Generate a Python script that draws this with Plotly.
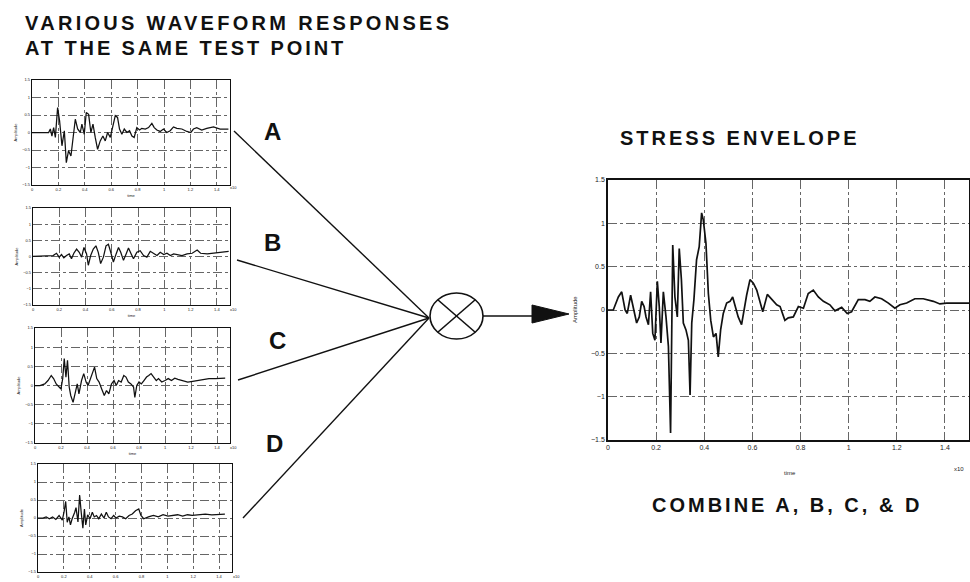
import plotly.graph_objects as go

W, H = 970, 582

# ---------------- data ----------------
a_time = [0, 0.126, 0.139, 0.151, 0.164, 0.177, 0.194, 0.209, 0.227, 0.245,
          0.26, 0.277, 0.295, 0.31, 0.328, 0.346, 0.366, 0.378, 0.396, 0.411,
          0.429, 0.446, 0.462, 0.479, 0.497, 0.517, 0.537, 0.555, 0.573, 0.593,
          0.613, 0.631, 0.648, 0.663, 0.681, 0.699, 0.719, 0.739, 0.757, 0.774,
          0.794, 0.815, 0.832, 0.858, 0.883, 0.908, 0.926, 0.946, 0.971, 0.996,
          1.021, 1.047, 1.072, 1.097, 1.135, 1.173, 1.203, 1.223, 1.248, 1.286,
          1.324, 1.375, 1.425, 1.488]
a_amp = [0, 0, 0.1, -0.1, 0.14, -0.14, 0.71, 0.33, -0.38, 0.05,
         -0.86, -0.52, -0.67, -0.14, 0.38, 0.1, 0, 0.24, -0.05, 0.57,
         0.52, 0, 0.24, -0.14, -0.48, -0.24, -0.1, -0.24, 0, -0.14,
         0.19, 0.48, 0.43, 0.1, -0.05, 0.1, 0, 0.05, -0.1, -0.14,
         0.14, 0.07, 0.12, 0.1, 0.14, 0.26, 0.14, 0.07, 0.03, 0.1,
         0, 0.05, 0.16, 0.12, 0.1, 0.03, 0, 0.1, 0.14, 0.07,
         0.12, 0.16, 0.1, 0.1]

b_time = [0, 0.153, 0.179, 0.199, 0.217, 0.235, 0.255, 0.276, 0.293, 0.311,
          0.332, 0.352, 0.37, 0.388, 0.408, 0.421, 0.439, 0.459, 0.479, 0.497,
          0.515, 0.536, 0.556, 0.574, 0.592, 0.612, 0.633, 0.651, 0.668, 0.689,
          0.709, 0.727, 0.745, 0.765, 0.791, 0.816, 0.842, 0.867, 0.893, 0.918,
          0.944, 0.969, 0.995, 1.02, 1.046, 1.071, 1.11, 1.135, 1.173, 1.212,
          1.25, 1.276, 1.327, 1.378, 1.429, 1.49]
b_amp = [0, 0.03, 0.1, -0.02, 0.06, -0.04, 0.03, 0.08, -0.07, 0.1,
         0.23, 0.13, -0.02, 0.28, 0.08, -0.27, 0.03, 0.23, 0.33, 0.13,
         -0.22, -0.02, 0.33, 0.38, 0.13, -0.17, 0.08, 0.28, 0.13, -0.12,
         0.08, 0.26, 0.1, -0.07, 0.13, 0.18, 0.03, -0.02, 0.16, 0.1,
         0.03, 0.13, 0.06, 0.1, 0.03, 0.08, 0.06, 0.03, 0.08, 0.1,
         0.2, 0.1, 0.08, 0.1, 0.13, 0.16]

c_time = [0, 0.038, 0.075, 0.1, 0.125, 0.143, 0.163, 0.183, 0.2, 0.213,
          0.225, 0.238, 0.25, 0.263, 0.275, 0.293, 0.308, 0.325, 0.338, 0.358,
          0.375, 0.393, 0.408, 0.425, 0.443, 0.458, 0.475, 0.493, 0.513, 0.533,
          0.55, 0.568, 0.588, 0.608, 0.625, 0.643, 0.663, 0.683, 0.7, 0.718,
          0.738, 0.758, 0.768, 0.783, 0.8, 0.818, 0.838, 0.858, 0.875, 0.893,
          0.913, 0.933, 0.95, 0.975, 1.0, 1.025, 1.05, 1.075, 1.1, 1.138,
          1.175, 1.213, 1.25, 1.288, 1.338, 1.388, 1.463]
c_amp = [0, 0, 0.04, 0.13, 0.26, 0.18, 0.04, -0.04, -0.09, 0.18,
         0.7, 0.22, 0.66, -0.04, -0.26, -0.44, -0.18, 0.04, -0.22, 0.13,
         0.31, 0.09, 0, 0.18, 0.31, 0.48, 0.18, 0.09, -0.09, -0.26,
         -0.13, -0.22, 0.04, 0.13, 0, 0.13, 0.09, 0.26, 0.22, 0.09,
         0.04, -0.04, -0.31, 0, 0.09, 0.04, 0.13, 0.22, 0.26, 0.31,
         0.22, 0.13, 0.18, 0.09, 0.13, 0.18, 0.13, 0.19, 0.16, 0.13,
         0.09, 0.11, 0.13, 0.16, 0.18, 0.18, 0.19]

d_time = [0, 0.038, 0.063, 0.088, 0.113, 0.138, 0.163, 0.188, 0.201, 0.214,
          0.226, 0.239, 0.251, 0.264, 0.284, 0.294, 0.309, 0.322, 0.334, 0.347,
          0.359, 0.369, 0.384, 0.402, 0.42, 0.435, 0.452, 0.47, 0.49, 0.51,
          0.528, 0.545, 0.565, 0.585, 0.603, 0.628, 0.653, 0.678, 0.704, 0.729,
          0.754, 0.779, 0.796, 0.817, 0.854, 0.892, 0.93, 0.967, 1.005, 1.043,
          1.08, 1.118, 1.156, 1.193, 1.244, 1.294, 1.344, 1.394, 1.445]
d_amp = [0, 0, 0.03, -0.02, 0.03, -0.04, 0.07, -0.06, 0.16, 0.46,
         -0.12, 0.03, -0.19, -0.02, 0.16, 0.29, -0.11, 0.64, 0.16, -0.28,
         0.25, -0.19, 0.09, -0.02, 0.16, 0.03, 0.07, -0.02, 0.11, 0,
         0.16, 0.03, -0.02, 0.07, 0, 0.05, 0.03, -0.02, 0.07, 0.11,
         0.2, 0.25, 0.07, -0.02, 0.03, 0.07, 0.03, 0.09, 0.05, 0.07,
         0.09, 0.05, 0.09, 0.07, 0.09, 0.11, 0.09, 0.11, 0.11]

env_time = [0, 0.022, 0.043, 0.057, 0.071, 0.080, 0.094, 0.105, 0.119, 0.130,
            0.140, 0.150, 0.158, 0.168, 0.177, 0.186, 0.195, 0.205, 0.213, 0.220,
            0.230, 0.241, 0.251, 0.260, 0.269, 0.278, 0.288, 0.296, 0.305, 0.313,
            0.324, 0.334, 0.341, 0.348, 0.357, 0.368, 0.379, 0.389, 0.396, 0.407,
            0.417, 0.427, 0.438, 0.449, 0.458, 0.468, 0.479, 0.493, 0.507, 0.518,
            0.528, 0.541, 0.555, 0.565, 0.576, 0.590, 0.604, 0.618, 0.629, 0.643,
            0.662, 0.680, 0.701, 0.715, 0.735, 0.749, 0.770, 0.791, 0.812, 0.832,
            0.853, 0.874, 0.895, 0.922, 0.943, 0.971, 0.994, 1.012, 1.040, 1.068,
            1.088, 1.109, 1.137, 1.165, 1.192, 1.213, 1.241, 1.275, 1.310, 1.352,
            1.379, 1.407, 1.449, 1.5]
env_amp = [0, 0, 0.15, 0.21, 0, -0.04, 0.17, 0.04, -0.15, -0.08,
           0.1, 0.04, -0.08, -0.17, 0.21, -0.27, -0.35, 0.33, 0.04, -0.38,
           0.21, -0.08, -0.42, -1.42, 0.75, 0.15, -0.08, 0.71, 0.35, -0.15,
           -0.23, -0.35, -0.98, -0.15, 0.12, 0.58, 0.73, 1.12, 1.04, 0.77,
           0.19, -0.12, -0.31, -0.27, -0.54, -0.23, -0.04, 0.08, 0.1, 0.15,
           0.04, -0.08, -0.17, 0, 0.17, 0.35, 0.31, 0.23, 0.12, -0.02,
           0.18, 0.13, 0.06, 0.04, -0.12, -0.09, -0.08, 0.04, 0.02, 0.19,
           0.23, 0.15, 0.10, 0.06, -0.01, 0.03, -0.04, -0.02, 0.12, 0.12,
           0.10, 0.15, 0.13, 0.08, 0.02, 0.06, 0.08, 0.13, 0.13, 0.10,
           0.07, 0.08, 0.08, 0.08]

x_tick_vals = [0, 0.2, 0.4, 0.6, 0.8, 1.0, 1.2, 1.4]
x_tick_text = ["0", "0.2", "0.4", "0.6", "0.8", "1", "1.2", "1.4"]
y_tick_vals = [-1.5, -1, -0.5, 0, 0.5, 1, 1.5]
y_tick_text = ["\u22121.5", "\u22121", "\u22120.5", "0", "0.5", "1", "1.5"]
series_labels = ["A", "B", "C", "D"]

title_lines = ["VARIOUS WAVEFORM RESPONSES", "AT THE SAME TEST POINT"]
env_title = "STRESS ENVELOPE"
env_caption = "COMBINE A, B, C, & D"

# ---------------- layout helpers ----------------
def px(x):
    return x / W


def py(y):
    return 1 - y / H


FONT = "Liberation Sans, Arial, sans-serif"

# pixel boxes (left, right, top, bottom)
panels = [
    ("A", a_time, a_amp, (32, 230, 80, 185)),
    ("B", b_time, b_amp, (33, 230, 208, 305)),
    ("C", c_time, c_amp, (35, 230, 328, 443)),
    ("D", d_time, d_amp, (38, 232, 464, 572)),
    ("E", env_time, env_amp, (608, 969, 180, 440)),
]

fig = go.Figure()
layout = {}
for i, (name, t, v, box) in enumerate(panels, start=1):
    big = name == "E"
    suffix = "" if i == 1 else str(i)
    fig.add_trace(go.Scatter(
        x=t, y=v, mode="lines",
        line=dict(color="#111111", width=1.7 if big else 1.25),
        xaxis="x" + suffix, yaxis="y" + suffix,
        showlegend=False, hoverinfo="skip"))
    x0, x1, y0, y1 = box
    fs = 7 if big else 4
    common = dict(
        showgrid=True, gridcolor="#666666", griddash="dashdot", gridwidth=0.8,
        showline=True, linecolor="#111111", linewidth=1.5 if big else 1.2,
        mirror=True, zeroline=False, ticks="", fixedrange=True, automargin=False,
        tickfont=dict(family=FONT, size=fs, color="#222222"),
    )
    xtitle = "" if (name == "D" or big) else "time"
    ytitle = "" if big else "Amplitude"
    layout["xaxis" + suffix] = dict(
        common, domain=[px(x0), px(x1)], range=[0, 1.5],
        anchor="y" + suffix, tickvals=x_tick_vals, ticktext=x_tick_text,
        title=dict(text=xtitle, font=dict(family=FONT, size=4, color="#222"),
                   standoff=3))
    layout["yaxis" + suffix] = dict(
        common, domain=[py(y1), py(y0)], range=[-1.5, 1.5],
        anchor="x" + suffix, tickvals=y_tick_vals, ticktext=y_tick_text,
        title=dict(text=ytitle, font=dict(family=FONT, size=4, color="#222"),
                   standoff=4))

fig.update_layout(**layout)

# ---------------- diagram shapes ----------------
shapes = []
hub = (429, 318)
starts = [(234, 131), (237, 260), (238, 380), (243, 518)]
for sx, sy in starts:
    shapes.append(dict(type="line", xref="paper", yref="paper",
                       x0=px(sx), y0=py(sy), x1=px(hub[0]), y1=py(hub[1]),
                       line=dict(color="#111", width=1.4)))
# summing junction
cx, cy, rx, ry = 456.5, 316, 26.5, 23
shapes.append(dict(type="circle", xref="paper", yref="paper",
                   x0=px(cx - rx), x1=px(cx + rx), y0=py(cy + ry), y1=py(cy - ry),
                   line=dict(color="#111", width=1.6)))
dx, dy = rx * 0.7071, ry * 0.7071
shapes.append(dict(type="line", xref="paper", yref="paper",
                   x0=px(cx - dx), y0=py(cy - dy), x1=px(cx + dx), y1=py(cy + dy),
                   line=dict(color="#111", width=1.6)))
shapes.append(dict(type="line", xref="paper", yref="paper",
                   x0=px(cx - dx), y0=py(cy + dy), x1=px(cx + dx), y1=py(cy - dy),
                   line=dict(color="#111", width=1.6)))
# output arrow
shapes.append(dict(type="line", xref="paper", yref="paper",
                   x0=px(cx + rx), y0=py(316), x1=px(536), y1=py(316),
                   line=dict(color="#111", width=1.6)))
shapes.append(dict(type="path", xref="paper", yref="paper",
                   path="M %f %f L %f %f L %f %f Z" % (px(532), py(305), px(569), py(314),
                                                       px(532), py(323)),
                   fillcolor="#111", line=dict(color="#111", width=1)))
fig.update_layout(shapes=shapes)

# ---------------- text ----------------
def spaced(s, ls=3):
    return '<b><span style="letter-spacing:%.1fpx">%s</span></b>' % (ls, s)


ann = []
ann.append(dict(text=spaced(title_lines[0], 3.3), x=px(23), y=py(23), xanchor="left",
                yanchor="middle"))
ann.append(dict(text=spaced(title_lines[1], 2.9), x=px(23), y=py(48), xanchor="left",
                yanchor="middle"))
ann.append(dict(text=spaced(env_title), x=px(618), y=py(138), xanchor="left",
                yanchor="middle"))
ann.append(dict(text=spaced(env_caption), x=px(650), y=py(505), xanchor="left",
                yanchor="middle"))
letter_pos = [(272, 132), (272, 242), (277, 340), (274, 443)]
for lab, (lx, ly) in zip(series_labels, letter_pos):
    ann.append(dict(text="<b>%s</b>" % lab, x=px(lx), y=py(ly), xanchor="center",
                    yanchor="middle", font=dict(family=FONT, size=24, color="#111")))
# big-plot axis titles
ann.append(dict(text="Amplitude", x=px(575), y=py(310), textangle=-90,
                xanchor="center", yanchor="middle",
                font=dict(family=FONT, size=6, color="#222")))
ann.append(dict(text="time", x=px(790), y=py(473), xanchor="center", yanchor="middle",
                font=dict(family=FONT, size=6, color="#222")))
for a in ann:
    a.setdefault("font", dict(family=FONT, size=20, color="#111"))
    a.update(xref="paper", yref="paper", showarrow=False)

# exponent markers at right end of each time axis
exp_pos = [(233, 188), (233, 309), (233, 447), (236, 576), (959, 469)]
for k, (ex, ey) in enumerate(exp_pos):
    ann.append(dict(text="x10", x=px(ex), y=py(ey), xref="paper", yref="paper",
                    showarrow=False, xanchor="center", yanchor="middle",
                    font=dict(family=FONT, size=6 if k == 4 else 4, color="#222")))

fig.update_layout(
    annotations=ann,
    width=W, height=H,
    margin=dict(l=0, r=0, t=0, b=0, autoexpand=False),
    paper_bgcolor="white", plot_bgcolor="white",
    showlegend=False,
)

fig.write_html(
    "out.html",
    config={"displayModeBar": False},
    post_script="document.body.style.margin='0';document.body.style.overflow='hidden';",
)
